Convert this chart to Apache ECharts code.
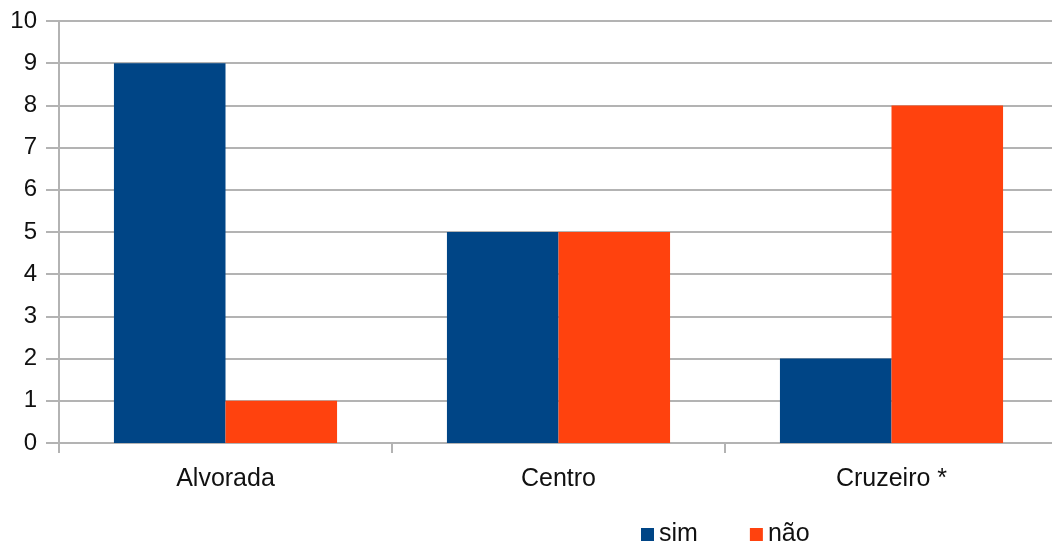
<!DOCTYPE html>
<html>
<head>
<meta charset="utf-8">
<script src="https://cdn.jsdelivr.net/npm/echarts@6/dist/echarts.min.js"></script>
<style>
  html, body { margin: 0; padding: 0; background: #fff; }
  #chart { width: 1052px; height: 544px; }
</style>
</head>
<body>
<div id="chart"></div>
<script>
// dados
var categorias = ['Alvorada', 'Centro', 'Cruzeiro *'];
var sim = [9, 5, 2];
var nao = [1, 5, 8];
var ticksY = [0, 1, 2, 3, 4, 5, 6, 7, 8, 9, 10];

var grafico = echarts.init(document.getElementById('chart'));

var fonte = 'Liberation Sans, Arial, sans-serif';
var corLinha = '#b3b3b3';
var corTexto = '#111';

var opcao = {
    animation: false,
    color: ['#004586', '#ff420e'],
    // a area do grafico passa um pouco da borda direita, como no original
    grid: { left: 59, width: 999, top: 21, height: 422, outerBoundsMode: 'none' },
    // legenda embaixo
    legend: {
        left: 636,
        top: 517,
        itemWidth: 13,
        itemHeight: 13,
        itemGap: 52,
        icon: 'rect',
        textStyle: { fontFamily: fonte, fontSize: 25, color: corTexto },
        data: ['sim', 'não']
    },
    xAxis: {
        type: 'category',
        data: categorias,
        axisLine: { lineStyle: { color: corLinha, width: 2 } },
        axisTick: { show: true, length: 10, lineStyle: { color: corLinha, width: 2 } },
        axisLabel: { fontFamily: fonte, fontSize: 25, color: corTexto, margin: 24 }
    },
    yAxis: {
        type: 'value',
        min: ticksY[0],
        max: ticksY[ticksY.length - 1],
        interval: 1,
        axisLine: { show: true, lineStyle: { color: corLinha, width: 2 } },
        axisTick: { show: true, length: 13, lineStyle: { color: corLinha, width: 2 } },
        splitLine: { lineStyle: { color: corLinha, width: 2 } },
        axisLabel: { fontFamily: fonte, fontSize: 24, color: corTexto, margin: 22 }
    },
    series: [
        { name: 'sim', type: 'bar', data: sim, barGap: '0%', barCategoryGap: '33%' },
        { name: 'não', type: 'bar', data: nao, barGap: '0%', barCategoryGap: '33%' }
    ]
};

grafico.setOption(opcao);
</script>
</body>
</html>
